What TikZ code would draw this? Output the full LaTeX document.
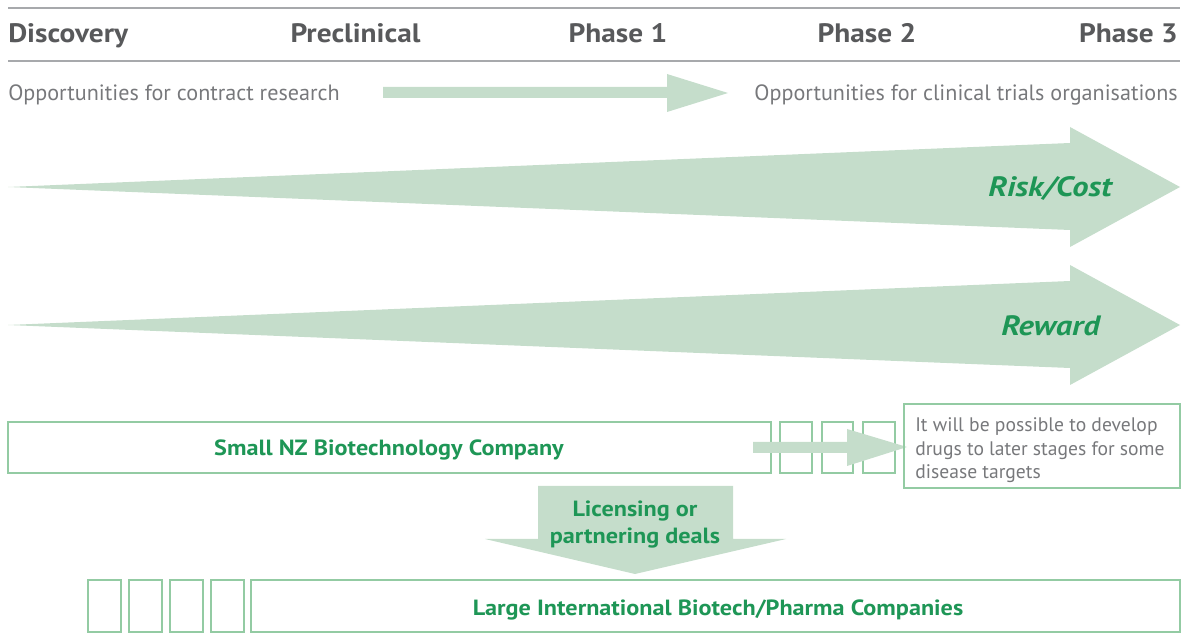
\documentclass[tikz,border=0pt]{standalone}
\usepackage{fontspec}
\setmainfont{PT Sans}
\newfontfamily\widesans[FakeStretch=1.1]{PT Sans}
\newfontfamily\widersans[FakeStretch=1.16]{PT Sans}
\definecolor{rulegray}{HTML}{A7A9AC}
\definecolor{headgray}{HTML}{58595B}
\definecolor{lightgray}{HTML}{77787B}
\definecolor{paleGreen}{HTML}{C5DDCB}
\definecolor{boxGreen}{HTML}{93CBA3}
\definecolor{textGreen}{HTML}{1E9656}
\begin{document}
\begin{tikzpicture}[x=0.75pt,y=-0.75pt,
  rulel/.style={draw=rulegray,line width=2pt},
  head/.style={inner sep=0pt,anchor=base,text=headgray,font=\widesans\fontsize{20}{23}\selectfont\bfseries},
  note/.style={inner sep=0pt,anchor=base,text=lightgray,font=\fontsize{16.6}{19}\selectfont},
  small note/.style={inner sep=0pt,anchor=base,text=lightgray,font=\fontsize{14.7}{17}\selectfont},
  label/.style={inner sep=0pt,anchor=base,text=textGreen,font=\widesans\fontsize{16.5}{19}\selectfont\bfseries},
  big/.style={inner sep=0pt,anchor=center,text=textGreen,font=\widersans\fontsize{21}{24}\selectfont\bfseries\itshape},
  outline/.style={draw=boxGreen,line width=1.1pt},
  flow/.style={fill=paleGreen,draw=none}]
\useasboundingbox (0,0) rectangle (1186,634);

% header rules
\draw[rulel] (8,8) -- (1180,8);
\draw[rulel] (8,61) -- (1180,61);

% stage headings
\node[head,anchor=base west] (disc) at (8,43) {Discovery};
\node[head] (precl) at (355.5,43) {Preclinical};
\node[head] (ph1) at (618,43) {Phase 1};
\node[head] (ph2) at (867,43) {Phase 2};
\node[head,anchor=base east] (ph3) at (1178,43) {Phase 3};

% opportunities row
\node[note,anchor=base west] (contract) at (8,101) {Opportunities for contract research};
\node[note,anchor=base east] (clinical) at (1178,101) {Opportunities for clinical trials organisations};
\path[flow] (383,87) -- (667,87) -- (667,74) -- (728,93) -- (667,112) -- (667,98) -- (383,98) -- cycle;

% tapered arrows
\path[flow] (8,187) -- (1070,143) -- (1070,127) -- (1180,187) -- (1070,247) -- (1070,230) -- cycle;
\node[big] (risk) at (1050,188) {Risk/Cost};
\path[flow] (8,325) -- (1070,281) -- (1070,265) -- (1180,325) -- (1070,385) -- (1070,368) -- cycle;
\node[big] (reward) at (1050.5,326) {Reward};

% small company row
\draw[outline] (8,422) rectangle (771,473);
\node[label] (small) at (389,456) {Small NZ Biotechnology Company};
\draw[outline] (780,422) rectangle (812,473);
\draw[outline] (822,422) rectangle (853,473);
\draw[outline] (863,422) rectangle (895,473);
\path[flow] (753,442) -- (847,442) -- (847,429) -- (907,447) -- (847,466) -- (847,453) -- (753,453) -- cycle;
\draw[outline] (904,404) rectangle (1180,488);
\node[small note,anchor=base west] (later1) at (915,432) {It will be possible to develop};
\node[small note,anchor=base west] (later2) at (915,455.5) {drugs to later stages for some};
\node[small note,anchor=base west] (later3) at (915,479) {disease targets};

% licensing arrow
\path[flow] (538,486) -- (733,486) -- (733,539) -- (786,539) -- (635,574) -- (485,539) -- (538,539) -- cycle;
\node[label] (lic1) at (635,517) {Licensing or};
\node[label] (lic2) at (635,543) {partnering deals};

% large company row
\draw[outline] (88,580) rectangle (121,632);
\draw[outline] (129,580) rectangle (162,632);
\draw[outline] (170,580) rectangle (203,632);
\draw[outline] (211,580) rectangle (244,632);
\draw[outline] (251,580) rectangle (1180,632);
\node[label] (large) at (718,615.5) {Large International Biotech/Pharma Companies};
\end{tikzpicture}
\end{document}
